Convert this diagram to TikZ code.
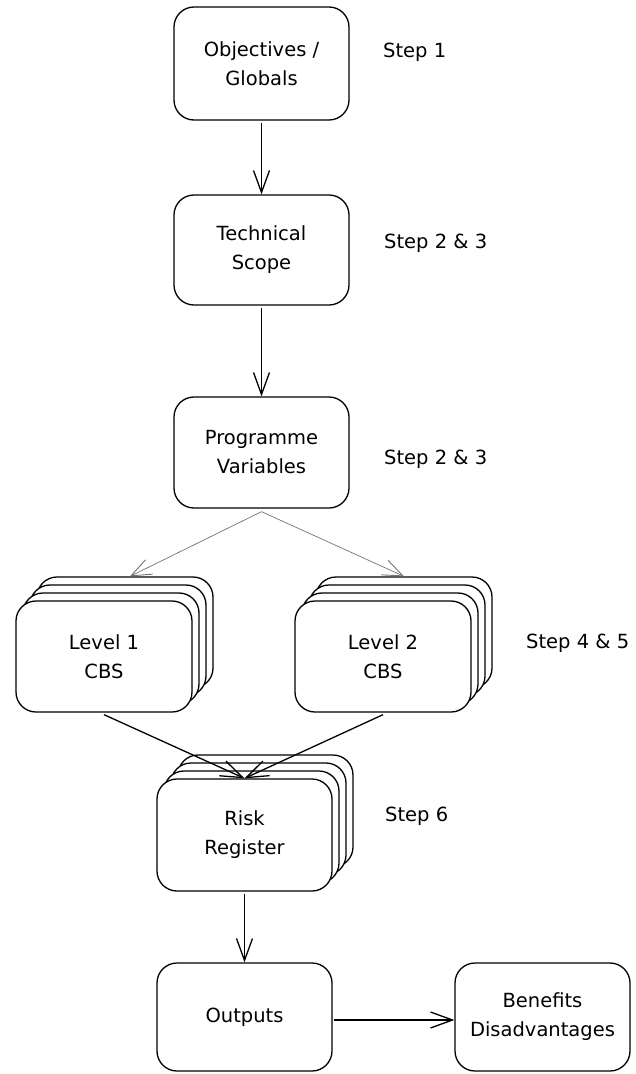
\documentclass[tikz,border=0pt]{standalone}
\usepackage{fontspec}
\setmainfont{DejaVu Sans}
\usetikzlibrary{arrows.meta,calc}

\begin{document}
\begin{tikzpicture}[x=1pt,y=-1pt,
  box/.style={draw, line width=1.3pt, rounded corners=20pt, fill=white,
    minimum width=175pt, minimum height=110pt, inner sep=0pt,
    align=center, font=\fontsize{19.5}{29}\selectfont},
  layer/.style={box},
  stepnote/.style={anchor=west, inner sep=0pt, font=\fontsize{19.5}{29}\selectfont},
  arr/.style={line width=1.3pt, -{Straight Barb[length=22pt,width=16pt,line width=1.3pt]}},
  thinarr/.style={line width=0.7pt, draw=black!55, -{Straight Barb[length=20pt,width=16pt,line width=0.9pt]}}
]
\useasboundingbox (0,0) rectangle (635,1074);

% main chain
\node[box, minimum height=113pt] (obj) at (261.5,63.5) {Objectives /\\Globals};
\node[box] (tech) at (261.5,250) {Technical\\Scope};
\node[box, minimum height=111pt] (prog) at (261.5,452.5) {Programme\\Variables};

% stacked CBS boxes (back layers first)
\foreach \k in {3,2,1}{
  \node[layer, minimum width=176pt, minimum height=111pt] (lone\k) at ({104+7*\k},{656.5-8*\k}) {};
  \node[layer, minimum width=176pt, minimum height=111pt] (ltwo\k) at ({383+7*\k},{656.5-8*\k}) {};
  \node[layer, minimum height=112pt] (risk\k) at ({244.5+7*\k},{835-8*\k}) {};
}
\node[box, minimum width=176pt, minimum height=111pt] (lone) at (104,656.5) {Level 1\\CBS};
\node[box, minimum width=176pt, minimum height=111pt] (ltwo) at (383,656.5) {Level 2\\CBS};

% risk register front box
\node[box, minimum height=112pt] (risk) at (244.5,835) {Risk\\Register};

\node[box, minimum height=108pt] (out) at (244.5,1017) {Outputs};
\node[box, minimum height=108pt] (ben) at (542.5,1017) {Benefits\\Disadvantages};

% step annotations
\node[stepnote] (s1) at (383,52) {Step 1};
\node[stepnote] (s2) at (384,243) {Step 2 \& 3};
\node[stepnote] (s3) at (384,459) {Step 2 \& 3};
\node[stepnote] (s45) at (526,643) {Step 4 \& 5};
\node[stepnote] (s6) at (385,816) {Step 6};

% connectors
\draw[arr] ($(obj.south)+(0,2)$) -- (tech.north);
\draw[arr] ($(tech.south)+(0,2)$) -- (prog.north);

\coordinate (split) at ($(prog.south)+(0,3)$);
\draw[thinarr] (split) -- ($(lone3.north)+(5,0)$);
\draw[thinarr] (split) -- ($(ltwo3.north)+(0,0)$);

\draw[arr] ($(lone.south)+(0,2)$) -- (risk.north);
\draw[arr] ($(ltwo.south)+(0,2)$) -- (risk.north);

\draw[arr] ($(risk.south)+(0,2)$) -- (out.north);
\draw[arr] ($(out.east)+(1,3)$) -- ($(ben.west)+(0,3)$);
\end{tikzpicture}
\end{document}
